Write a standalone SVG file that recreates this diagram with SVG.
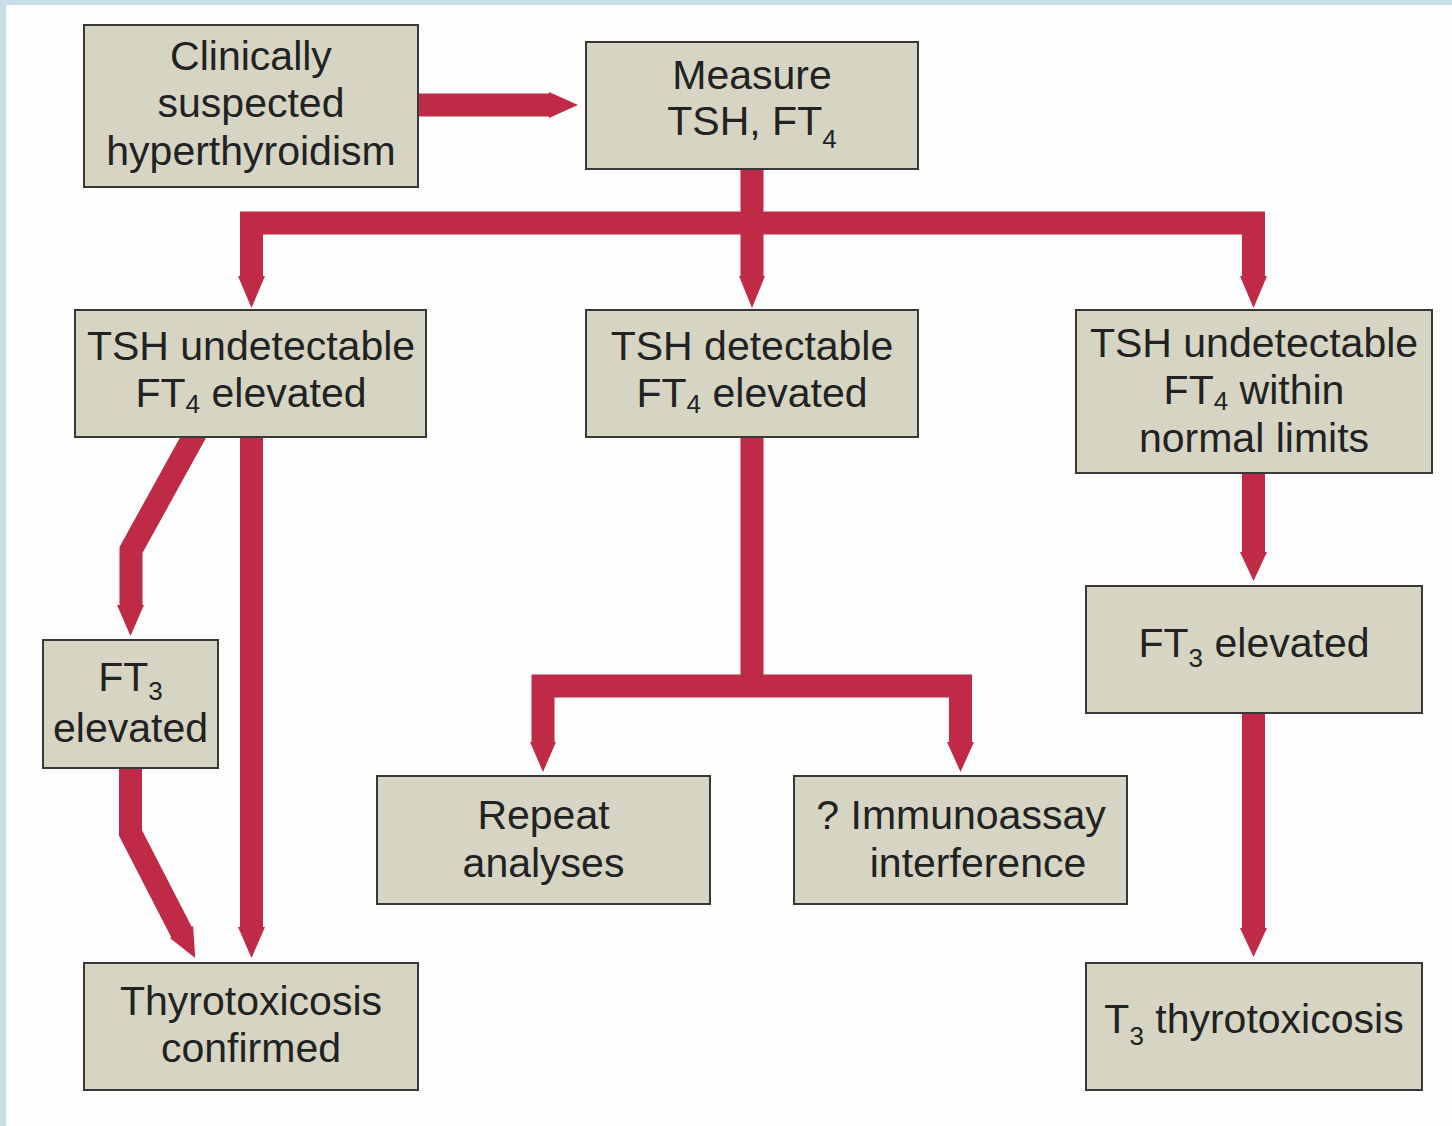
<svg xmlns="http://www.w3.org/2000/svg" width="1452" height="1126" viewBox="0 0 1452 1126">
<style>
.box{fill:#d6d5c4;stroke:#383838;stroke-width:2}
.t{font-family:"Liberation Sans",Arial,sans-serif;font-size:41px;fill:#222;text-anchor:middle}
.sub{font-size:26px}
.conn{fill:none;stroke:#bf2a46;stroke-width:23;stroke-linejoin:miter;stroke-miterlimit:10;stroke-linecap:butt}
.head{fill:#bf2a46}
</style>
<rect x="0" y="0" width="1452" height="1126" fill="#fdfdfd"/>
<rect x="0" y="0" width="1452" height="5" fill="#c9dce8"/>
<rect x="0" y="0" width="6" height="1126" fill="#c9dce8"/>

<g id="connectors">
  <path class="conn" d="M418,105 H551"/>
  <polygon class="head" points="549,92 549,118 578,105"/>
  <path class="conn" d="M752,165 V278"/>
  <polygon class="head" points="739,276 765,276 752,308"/>
  <path class="conn" d="M251.5,278 V223 H1253.5 V278"/>
  <polygon class="head" points="238,276 265,276 251.5,308"/>
  <polygon class="head" points="1240,276 1267,276 1253.5,308"/>

  <path class="conn" d="M200,425 L131,550 V607"/>
  <polygon class="head" points="117,605 144,605 130.5,636"/>
  <path class="conn" d="M130.5,760 V833 L183,935"/>
  <polygon class="head" points="169.9,938 193.1,926 195.2,958"/>
  <path class="conn" d="M251.5,430 V929"/>
  <polygon class="head" points="238,927 265,927 251.5,958"/>

  <path class="conn" d="M752,430 V686"/>
  <path class="conn" d="M543,744 V686 H960.5 V744"/>
  <polygon class="head" points="530,742 556,742 543,772"/>
  <polygon class="head" points="947,742 974,742 960.5,772"/>

  <path class="conn" d="M1253.5,470 V554"/>
  <polygon class="head" points="1240,552 1267,552 1253.5,581"/>
  <path class="conn" d="M1253.5,710 V930"/>
  <polygon class="head" points="1240,928 1267,928 1253.5,957"/>
</g>

<g id="n-suspected">
  <rect class="box" x="84" y="25" width="334" height="162"/>
  <text class="t" x="251" y="70">Clinically</text>
  <text class="t" x="251" y="117">suspected</text>
  <text class="t" x="251" y="165">hyperthyroidism</text>
</g>
<g id="n-measure">
  <rect class="box" x="586" y="42" width="332" height="127"/>
  <text class="t" x="752" y="89">Measure</text>
  <text class="t" x="752" y="135">TSH, FT<tspan class="sub" dy="13">4</tspan></text>
</g>
<g id="n-undet-elev">
  <rect class="box" x="75" y="310" width="351" height="127"/>
  <text class="t" x="251" y="360">TSH undetectable</text>
  <text class="t" x="251" y="407">FT<tspan class="sub" dy="6">4</tspan><tspan dy="-6"> elevated</tspan></text>
</g>
<g id="n-det-elev">
  <rect class="box" x="586" y="310" width="332" height="127"/>
  <text class="t" x="752" y="360">TSH detectable</text>
  <text class="t" x="752" y="407">FT<tspan class="sub" dy="6">4</tspan><tspan dy="-6"> elevated</tspan></text>
</g>
<g id="n-undet-normal">
  <rect class="box" x="1076" y="310" width="356" height="163"/>
  <text class="t" x="1254" y="357">TSH undetectable</text>
  <text class="t" x="1254" y="404">FT<tspan class="sub" dy="6">4</tspan><tspan dy="-6"> within</tspan></text>
  <text class="t" x="1254" y="452">normal limits</text>
</g>
<g id="n-ft3-left">
  <rect class="box" x="43" y="640" width="175" height="128"/>
  <text class="t" x="130.5" y="691">FT<tspan class="sub" dy="9">3</tspan></text>
  <text class="t" x="130.5" y="742">elevated</text>
</g>
<g id="n-confirmed">
  <rect class="box" x="84" y="963" width="334" height="127"/>
  <text class="t" x="251" y="1015">Thyrotoxicosis</text>
  <text class="t" x="251" y="1062">confirmed</text>
</g>
<g id="n-repeat">
  <rect class="box" x="377" y="776" width="333" height="128"/>
  <text class="t" x="543.5" y="829">Repeat</text>
  <text class="t" x="543.5" y="877">analyses</text>
</g>
<g id="n-immuno">
  <rect class="box" x="794" y="776" width="333" height="128"/>
  <text class="t" x="961" y="829">? Immunoassay</text>
  <text class="t" x="978" y="877">interference</text>
</g>
<g id="n-ft3-right">
  <rect class="box" x="1086" y="586" width="336" height="127"/>
  <text class="t" x="1254" y="657">FT<tspan class="sub" dy="10">3</tspan><tspan dy="-10"> elevated</tspan></text>
</g>
<g id="n-t3">
  <rect class="box" x="1086" y="963" width="336" height="127"/>
  <text class="t" x="1254" y="1033">T<tspan class="sub" dy="12">3</tspan><tspan dy="-12"> thyrotoxicosis</tspan></text>
</g>
</svg>
